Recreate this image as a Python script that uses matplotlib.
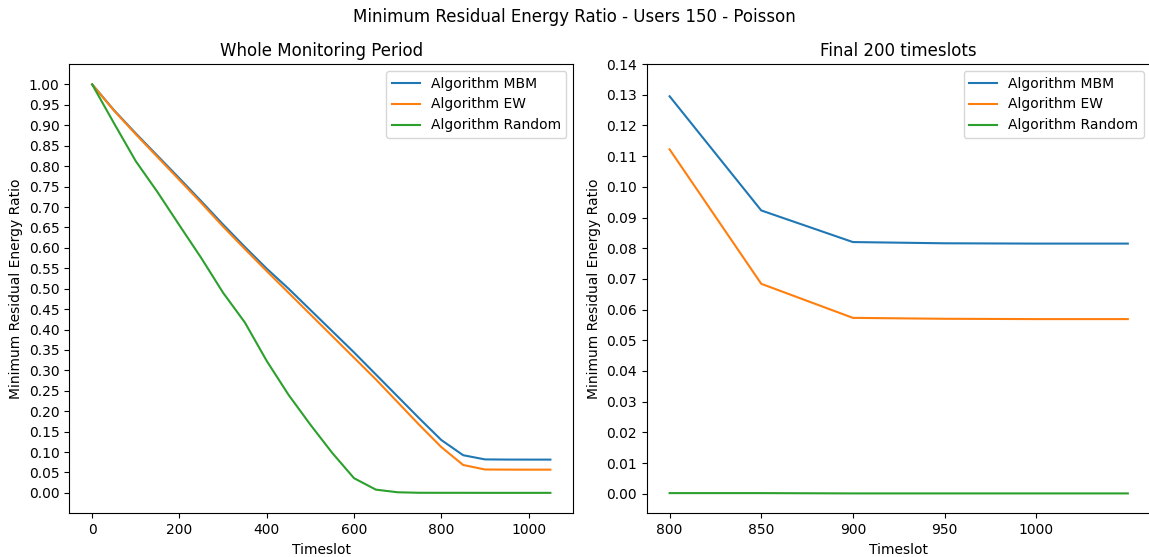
import matplotlib
matplotlib.use('Agg')
import matplotlib.pyplot as plt
import numpy as np

# timeslots 0..1050, step 50
timeslots = list(range(0, 1100, 50))

mbm = [1.0, 0.937, 0.880, 0.825, 0.770, 0.714, 0.657, 0.602, 0.549, 0.500,
       0.448, 0.396, 0.344, 0.290, 0.236, 0.182, 0.1295, 0.0923, 0.0820,
       0.0816, 0.0815, 0.0815]
ew = [1.0, 0.936, 0.878, 0.822, 0.766, 0.710, 0.652, 0.597, 0.543, 0.490,
      0.437, 0.384, 0.331, 0.278, 0.222, 0.166, 0.1122, 0.0684, 0.0573,
      0.0570, 0.0569, 0.0569]
rand = [1.0, 0.905, 0.812, 0.736, 0.655, 0.575, 0.490, 0.417, 0.323, 0.240,
        0.167, 0.098, 0.036, 0.008, 0.0015, 0.0003, 0.0002, 0.0002, 0.0001,
        0.0001, 0.0001, 0.0001]

labels = ['Algorithm MBM', 'Algorithm EW', 'Algorithm Random']
n_final = 6  # last 200 timeslots (800..1050)

fig, (ax1, ax2) = plt.subplots(1, 2, figsize=(11.49, 5.57), dpi=100)
fig.subplots_adjust(left=0.0603, right=1.0015, bottom=0.0785, top=0.885, wspace=0.1456)
fig.suptitle('Minimum Residual Energy Ratio - Users 150 - Poisson', fontsize=12, y=0.985)

for serie, lab in zip([mbm, ew, rand], labels):
    ax1.plot(timeslots, serie, label=lab)
ax1.set_yticks(np.arange(0, 1.001, 0.05))
ax1.set_title('Whole Monitoring Period', fontsize=12)
ax1.set_xlabel('Timeslot')
ax1.set_ylabel('Minimum Residual Energy Ratio')
ax1.legend(loc='upper right')

for serie, lab in zip([mbm, ew, rand], labels):
    ax2.plot(timeslots[-n_final:], serie[-n_final:], label=lab)
ax2.set_yticks(np.arange(0, 0.1401, 0.01))
ax2.set_xticks(np.arange(800, 1050, 50))
ax2.set_title('Final 200 timeslots', fontsize=12)
ax2.set_xlabel('Timeslot')
ax2.set_ylabel('Minimum Residual Energy Ratio')
ax2.legend(loc='upper right')

plt.savefig('out.png')
